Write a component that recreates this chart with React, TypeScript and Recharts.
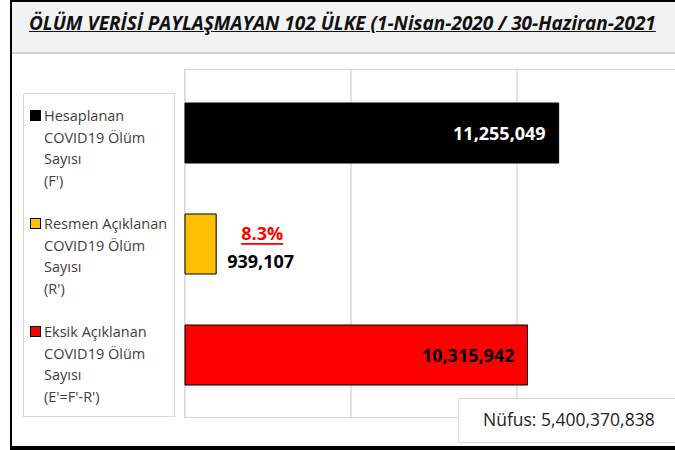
import React from 'react';
import { BarChart, Bar, XAxis, YAxis, CartesianGrid, Cell, LabelList } from 'recharts';

const categories = ['Hesaplanan', 'Resmen Açıklanan', 'Eksik Açıklanan'];
const values = [11255049, 939107, 10315942];
const barColors = ['#000000', '#FFC000', '#FF0000'];
const xTicks = [0, 5000000, 10000000, 15000000];
const legendLines = [
  ['Hesaplanan', 'COVID19 Ölüm', 'Sayısı', "(F')"],
  ['Resmen Açıklanan', 'COVID19 Ölüm', 'Sayısı', "(R')"],
  ['Eksik Açıklanan', 'COVID19 Ölüm', 'Sayısı', "(E'=F'-R')"],
];
const population = 5400370838;
const title = 'ÖLÜM VERİSİ PAYLAŞMAYAN 102 ÜLKE (1-Nisan-2020 / 30-Haziran-2021';

const data = categories.map((name, i) => ({ name, value: values[i] }));

const fmt = (n: number) => n.toLocaleString('en-US');
const share = ((values[1] / values[0]) * 100).toFixed(1) + '%';

const FONT = '"Open Sans", "DejaVu Sans", sans-serif';

const renderLabel = (props: any) => {
  const { x, y, width, height, value, index } = props;
  const cy = y + height / 2;
  if (index === 1) {
    const lx = x + width + 11;
    return (
      <g>
        <text x={lx + 35} y={cy - 11} textAnchor="middle" dominantBaseline="central"
          fill="#FF0000" fontSize={18} fontWeight={700} fontFamily={FONT} textDecoration="underline">
          {share}
        </text>
        <text x={lx} y={cy + 17} textAnchor="start" dominantBaseline="central"
          fill="#000" fontSize={18} fontWeight={700} fontFamily={FONT}>
          {fmt(value)}
        </text>
      </g>
    );
  }
  return (
    <text x={x + width - 13} y={cy} textAnchor="end" dominantBaseline="central"
      fill={index === 0 ? '#ffffff' : '#000000'} fontSize={18} fontWeight={700} fontFamily={FONT}>
      {fmt(value)}
    </text>
  );
};

const groupTops = [105, 213, 321];

export default function App() {
  return (
    <div style={{ position: 'absolute', left: 0, top: 0, width: 675, height: 450, overflow: 'hidden', background: '#fff', fontFamily: FONT }}>
      {/* title band */}
      <div style={{ position: 'absolute', left: 12, top: 2, width: 663, height: 50, background: '#f2f2f2', borderBottom: '2px solid #d0d0d0' }} />
      <div style={{ position: 'absolute', left: 29, top: 10, fontSize: 19, lineHeight: '26px', fontWeight: 700, fontStyle: 'italic', textDecoration: 'underline', color: '#111', whiteSpace: 'nowrap' }}>
        {title}
      </div>

      {/* plot frame */}
      <div style={{ position: 'absolute', left: 184, top: 69, width: 520, height: 347, border: '1.5px solid #d9d9d9' }} />

      <div style={{ position: 'absolute', left: 0, top: 0 }}>
        <BarChart width={700} height={450} data={data} layout="vertical"
          margin={{ top: 77, right: 17, bottom: 40, left: 185 }}>
          <CartesianGrid horizontal={false} stroke="#d9d9d9" strokeWidth={1.5} y={70} height={347} />
          <XAxis type="number" domain={[0, 15000000]} ticks={xTicks} hide />
          <YAxis type="category" dataKey="name" hide />
          <Bar dataKey="value" barSize={60} isAnimationActive={false}>
            {data.map((d, i) => (
              <Cell key={d.name} fill={barColors[i]} stroke="#000" strokeWidth={1} />
            ))}
            <LabelList dataKey="value" content={renderLabel} />
          </Bar>
        </BarChart>
      </div>

      {/* legend */}
      <div style={{ position: 'absolute', left: 23, top: 93, width: 150, height: 322, border: '1.5px solid #d9d9d9', background: '#fff' }} />
      {legendLines.map((lines, g) => (
        <div key={g} style={{ position: 'absolute', left: 30, top: groupTops[g], fontSize: 14.5, lineHeight: '21.7px', color: '#404040' }}>
          <div style={{ position: 'absolute', left: 0, top: 5, width: 9, height: 9, background: barColors[g], border: '1px solid #000' }} />
          {lines.map((t) => (
            <div key={t} style={{ paddingLeft: 14, whiteSpace: 'nowrap' }}>{t}</div>
          ))}
        </div>
      ))}

      {/* population box */}
      <div style={{ position: 'absolute', left: 458, top: 398, width: 230, height: 43, background: '#fff', border: '1.5px solid #d9d9d9' }}>
        <div style={{ position: 'absolute', left: 24, top: 8, fontSize: 17.5, color: '#222', whiteSpace: 'nowrap' }}>
          Nüfus: {fmt(population)}
        </div>
      </div>

      {/* outer black frame */}
      <div style={{ position: 'absolute', left: 10, top: 0, width: 2, height: 450, background: '#000' }} />
      <div style={{ position: 'absolute', left: 10, top: 0, width: 665, height: 2, background: '#000' }} />
      <div style={{ position: 'absolute', left: 10, top: 446, width: 665, height: 4, background: '#000' }} />
    </div>
  );
}
